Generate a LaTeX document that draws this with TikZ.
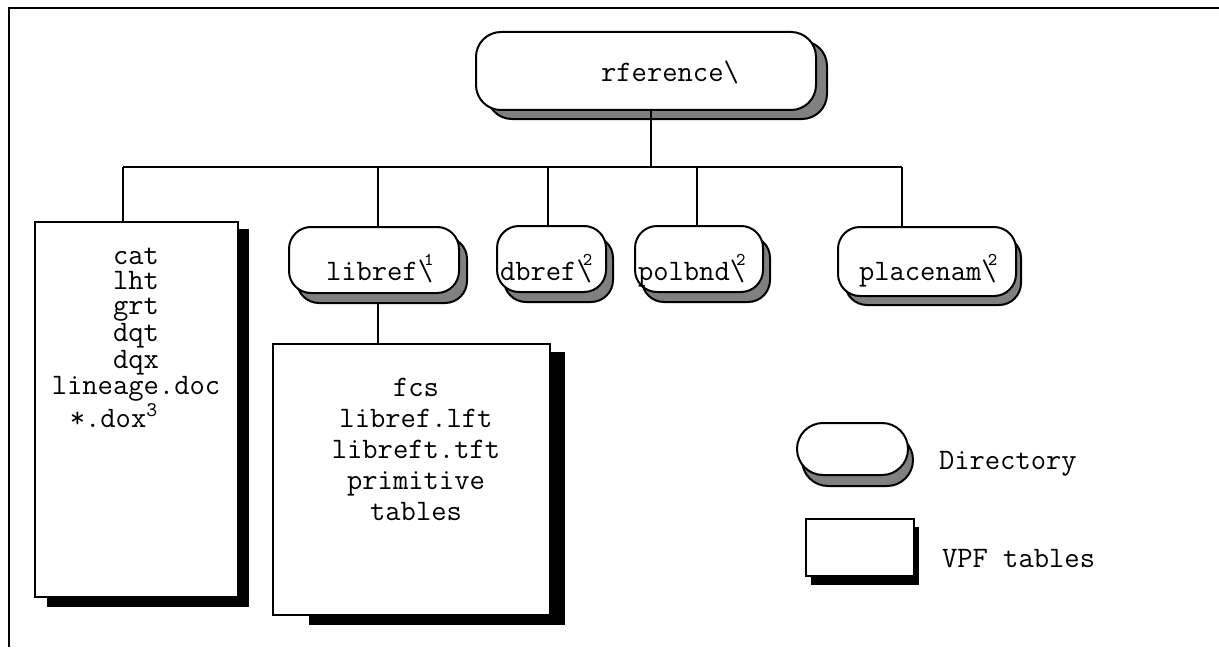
\documentclass[tikz,border=0pt]{standalone}
\usepackage{fontspec}
\usetikzlibrary{fit,calc}
\newcommand\supnum[1]{\kern-4.5pt\raisebox{7.5pt}{\fontsize{9}{9}\selectfont #1}}
\begin{document}
\begin{tikzpicture}[x=0.5pt,y=-0.5pt,line width=1pt,
  txt/.style={font=\ttfamily\fontsize{14.86}{15}\selectfont,inner sep=0pt},
  dirbox/.style={draw,fill=white,rounded corners=11pt,inner sep=0pt},
  dirshadow/.style={draw,fill=gray,rounded corners=11pt},
  tabbox/.style={draw,fill=white,inner sep=0pt},
  tabshadow/.style={fill=black},
  conn/.style={draw,line width=1pt}]
\useasboundingbox (0,0) rectangle (1219,647);
\draw (9,647) -- (9,8) -- (1219,8);

% root
\draw[dirshadow,rounded corners=12.5pt] (487,41) rectangle (827,119);
\node[dirbox,rounded corners=12.5pt,fit={(476,32) (816,110)}] (root) {};
\node[txt,anchor=base] (roottxt) at (670,82) {rference\textbackslash};

% bar
\coordinate (bar) at (651,167);
\coordinate (barL) at (123,167);
\coordinate (barR) at (902,167);
\coordinate (dlib) at (378,167);
\coordinate (ddb) at (548,167);
\coordinate (dpol) at (697,167);
\draw[conn] (root.south -| bar) -- (bar);
\draw[conn] (barL) -- (barR);

% left tables box
\fill[tabshadow] (47,229) rectangle (249,607);
\node[tabbox,fit={(35,222) (238,597)}] (lt) {};
\node[txt,align=center,anchor=base,font=\ttfamily\fontsize{14.86}{12.35}\selectfont] (lttxt) at (136,427)
  {cat\\lht\\grt\\dqt\\dqx\\lineage.doc\\*.dox\textsuperscript{3}\hspace*{22pt}};

% libref
\draw[dirshadow] (297,237) rectangle (467,303);
\node[dirbox,fit={(289,227) (459,293)}] (lib) {};
\node[txt,anchor=base west] (libtxt) at (325,280) {libref\textbackslash\supnum{1}};

% dbref
\draw[dirshadow] (504,236) rectangle (613,302);
\node[dirbox,fit={(497,226) (606,292)}] (db) {};
\node[txt,anchor=base west] (dbtxt) at (499,280) {dbref\textbackslash\supnum{2}};

% polbnd
\draw[dirshadow] (642,236) rectangle (770,302);
\node[dirbox,fit={(635,226) (763,292)}] (pol) {};
\node[txt,anchor=base west] (poltxt) at (637,280) {polbnd\textbackslash\supnum{2}};

% placenam
\draw[dirshadow] (845,236) rectangle (1021,305);
\node[dirbox,fit={(838,227) (1016,296)}] (pla) {};
\node[txt,anchor=base west] (platxt) at (858,280) {placenam\textbackslash\supnum{2}};

% libref tables box
\fill[tabshadow] (309,352) rectangle (565,625);
\node[tabbox,fit={(273,344) (550,615)}] (lrt) {};
\node[txt,align=center,anchor=base,font=\ttfamily\fontsize{14.86}{15.5}\selectfont] (lrttxt) at (416,520)
  {fcs\\libref.lft\\libreft.tft\\primitive\\tables};

% drops
\draw[conn] (barL) -- (barL |- lt.north);
\draw[conn] (dlib) -- (dlib |- lib.north);
\draw[conn] (ddb) -- (ddb |- db.north);
\draw[conn] (dpol) -- (dpol |- pol.north);
\draw[conn] (barR) -- (barR |- pla.north);
\draw[conn] ($(dlib |- lib.south)+(0,10)$) -- (dlib |- lrt.north);

% legend
\draw[dirshadow,rounded corners=13pt] (802,434) rectangle (913,486);
\node[dirbox,rounded corners=13pt,fit={(797,423) (908,475)}] (legdir) {};
\node[txt,anchor=base west] (legdirtxt) at (938,469) {Directory};
\fill[tabshadow] (811,527) rectangle (919,585);
\node[tabbox,fit={(806,519) (914,576)}] (legtab) {};
\node[txt,anchor=base west] (legtabtxt) at (941,567) {VPF tables};
\end{tikzpicture}
\end{document}
